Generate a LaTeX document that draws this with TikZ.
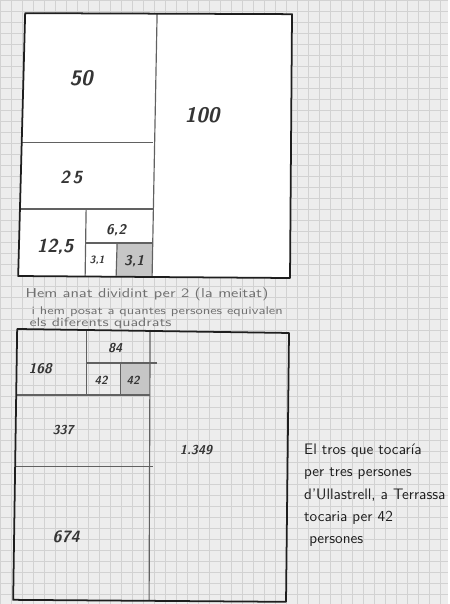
\documentclass[tikz,border=0pt]{standalone}
\definecolor{paper}{HTML}{EDEDED}
\definecolor{gridc}{HTML}{D2D2D2}
\definecolor{pen}{HTML}{1E1E1E}
\definecolor{pencil}{HTML}{707070}
\definecolor{cellgray}{HTML}{C6C6C6}

\begin{document}
\begin{tikzpicture}[x=0.03cm,y=-0.03cm,
 outer/.style={draw=pen,line width=1.5pt,line join=round},
 inner/.style={draw=pen!70,line width=1pt},
 num/.style={font=\sffamily\bfseries\slshape\fontsize{#1}{#1}\selectfont,text=pen!90},
 num/.default=11,
 note/.style={font=\sffamily\fontsize{#1}{#1}\selectfont,text=pencil,anchor=base west,xscale=1.3},
 note/.default=10]
\fill[paper] (0,0) rectangle (448,604);
\foreach \g in {0,11,...,448} \draw[gridc,line width=0.3pt] (\g,0) -- (\g,604);
\foreach \g in {0,11,...,604} \draw[gridc,line width=0.3pt] (0,\g) -- (448,\g);

% top square: halving
\fill[white] (25,13) -- (292,14) -- (290,278) -- (18,276) -- cycle;
\fill[cellgray] (117,243) rectangle (152,277);
\draw[inner] (157,14) -- (152,277);
\draw[inner] (22,142) -- (153,142);
\draw[inner] (21,209) -- (153,209);
\draw[inner] (86,209) -- (85,276);
\draw[inner] (86,243) -- (152,243);
\draw[inner] (117,243) -- (116,277);
\draw[outer] (25,13) -- (292,14) -- (290,278) -- (18,276) -- cycle;
\node[num=18] (n50) at (81,78) {50};
\node[num=18] (n100) at (202,115) {100};
\node[num=15] (n25) at (71,177) {2\,5};
\node[num=16] (n12) at (55,247) {12,5};
\node[num=12] (n6) at (116,230) {6,2};
\node[num=9] (n3a) at (97,260) {3,1};
\node[num=12] (n3b) at (134,261) {3,1};

\node[note=11] (c1) at (20,297) {Hem anat dividint per 2 (la meitat)};
\node[note=9.5] (c2) at (26,315) {i hem posat a quantes persones equivalen};
\node[note=10.5] (c3) at (24,327) {els diferents quadrats};

% bottom square: people
\fill[cellgray] (120,363) rectangle (150,395);
\draw[inner] (150,330) -- (149,601);
\draw[inner] (16,395) -- (150,395);
\draw[inner] (86,330) -- (86,395);
\draw[inner] (86,363) -- (157,363);
\draw[inner] (120,363) -- (120,395);
\draw[inner] (15,467) -- (153,467);
\draw[outer] (17,329) -- (289,333) -- (286,602) -- (13,600) -- cycle;
\node[num=11] (m84) at (115,348) {84};
\node[num=12] (m168) at (40,369) {168};
\node[num=10] (m42a) at (101,380) {42};
\node[num=10] (m42b) at (133,380) {42};
\node[num=11] (m337) at (63,430) {337};
\node[num=11] (m1349) at (196,450) {1.349};
\node[num=14] (m674) at (66,537) {674};

\node[font=\sffamily\fontsize{13}{19}\selectfont,text=pen,align=left,
 anchor=north west,xscale=1.02] (txt) at (300,440)
 {El tros que tocaría\\per tres persones\\d'Ullastrell, a Terrassa\\tocaria per 42\\\ persones};
\end{tikzpicture}
\end{document}
